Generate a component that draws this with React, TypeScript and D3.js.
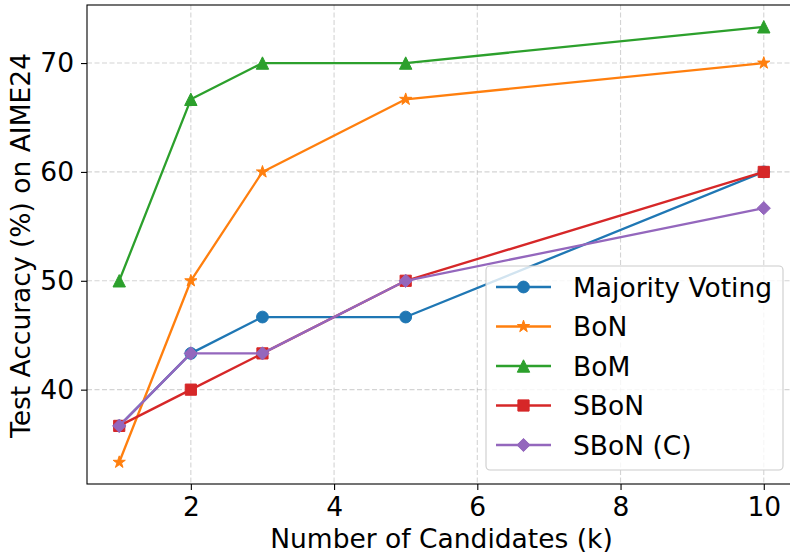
import { useEffect, useRef } from "react";
import * as d3 from "d3";

const candidates = [1, 2, 3, 5, 10];
const majorityVoting = [36.67, 43.33, 46.67, 46.67, 60.0];
const bon = [33.33, 50.0, 60.0, 66.67, 70.0];
const bom = [50.0, 66.67, 70.0, 70.0, 73.33];
const sbon = [36.67, 40.0, 43.33, 50.0, 60.0];
const sbonC = [36.67, 43.33, 43.33, 50.0, 56.67];

const xTicks = [2, 4, 6, 8, 10];
const yTicks = [40, 50, 60, 70];

const seriesList = [
  { name: "Majority Voting", values: majorityVoting, color: "#1f77b4", marker: "circle" },
  { name: "BoN", values: bon, color: "#ff7f0e", marker: "star" },
  { name: "BoM", values: bom, color: "#2ca02c", marker: "triangle" },
  { name: "SBoN", values: sbon, color: "#d62728", marker: "square" },
  { name: "SBoN (C)", values: sbonC, color: "#9467bd", marker: "diamond" },
];

function markerPath(kind: string): string {
  switch (kind) {
    case "circle":
      return d3.symbol(d3.symbolCircle, Math.PI * 5.9 * 5.9)() as string;
    case "star":
      return d3.symbol(d3.symbolStar, 46)() as string;
    case "triangle": {
      const h = 6.2;
      return `M0,${-h}L${h},${h}L${-h},${h}Z`;
    }
    case "square": {
      const h = 5.6;
      return `M${-h},${-h}H${h}V${h}H${-h}Z`;
    }
    default: {
      const h = 6.6;
      return `M0,${-h}L${h},0L0,${h}L${-h},0Z`;
    }
  }
}

export default function App() {
  const svgRef = useRef<SVGSVGElement | null>(null);

  useEffect(() => {
    const W = 790, H = 555;
    const left = 87, top = 5, bottom = 484, right = 796;
    const font = "DejaVu Sans, sans-serif";
    const fs = "26.5px";

    const svg = d3.select(svgRef.current).attr("width", W).attr("height", H);
    svg.selectAll("*").remove();

    const x = d3.scaleLinear().domain([0.55, 10.45]).range([left, right]);
    const y = d3.scaleLinear().domain([31.333, 75.333]).range([bottom, top]);

    svg.append("rect").attr("width", W).attr("height", H).attr("fill", "white");

    // grid
    const grid = svg.append("g")
      .attr("stroke", "#b0b0b0")
      .attr("stroke-opacity", 0.55)
      .attr("stroke-width", 1.1)
      .attr("stroke-dasharray", "5,2.5");
    grid.selectAll(".gx").data(xTicks).join("line")
      .attr("x1", d => x(d)).attr("x2", d => x(d))
      .attr("y1", top).attr("y2", bottom);
    grid.selectAll(".gy").data(yTicks).join("line")
      .attr("y1", d => y(d)).attr("y2", d => y(d))
      .attr("x1", left).attr("x2", right);

    svg.append("clipPath").attr("id", "plot-clip")
      .append("rect").attr("x", left).attr("y", top)
      .attr("width", right - left).attr("height", bottom - top);

    const plot = svg.append("g").attr("clip-path", "url(#plot-clip)");

    const line = d3.line<number>()
      .x((_, i) => x(candidates[i]))
      .y(d => y(d));

    seriesList.forEach(s => {
      const g = plot.append("g");
      g.append("path")
        .datum(s.values)
        .attr("fill", "none")
        .attr("stroke", s.color)
        .attr("stroke-width", 2.3)
        .attr("stroke-linejoin", "round")
        .attr("d", line);
      g.selectAll("path.mk").data(s.values).join("path")
        .attr("class", "mk")
        .attr("transform", (d, i) => `translate(${x(candidates[i])},${y(d)})`)
        .attr("d", markerPath(s.marker))
        .attr("fill", s.color)
        .attr("stroke", s.color)
        .attr("stroke-width", 1);
    });

    // spines
    svg.append("rect")
      .attr("x", left).attr("y", top)
      .attr("width", right - left).attr("height", bottom - top)
      .attr("fill", "none").attr("stroke", "black").attr("stroke-width", 1.1);

    // axes
    const xAxis = svg.append("g")
      .attr("transform", `translate(0,${bottom})`)
      .call(d3.axisBottom(x).tickValues(xTicks).tickSize(6).tickPadding(7).tickFormat(d3.format("d")));
    const yAxis = svg.append("g")
      .attr("transform", `translate(${left},0)`)
      .call(d3.axisLeft(y).tickValues(yTicks).tickSize(6).tickPadding(7).tickFormat(d3.format("d")));
    [xAxis, yAxis].forEach(a => {
      a.select(".domain").remove();
      a.selectAll("line").attr("stroke", "black").attr("stroke-width", 1.1);
      a.selectAll("text").attr("fill", "black").style("font-size", fs).style("font-family", font);
    });

    svg.append("text")
      .attr("x", (left + right) / 2).attr("y", 548)
      .attr("text-anchor", "middle")
      .style("font-size", fs).style("font-family", font)
      .text("Number of Candidates (k)");

    svg.append("text")
      .attr("transform", `translate(30,245.5) rotate(-90)`)
      .attr("text-anchor", "middle")
      .style("font-size", fs).style("font-family", font)
      .text("Test Accuracy (%) on AIME24");

    // legend
    const legend = svg.append("g");
    legend.append("rect")
      .attr("x", 486).attr("y", 266).attr("width", 297).attr("height", 204)
      .attr("rx", 4)
      .attr("fill", "white").attr("fill-opacity", 0.8)
      .attr("stroke", "#cccccc").attr("stroke-width", 1.1);
    const item = legend.selectAll("g.item").data(seriesList).join("g")
      .attr("class", "item")
      .attr("transform", (_, i) => `translate(0,${287 + i * 39.5})`);
    item.append("line")
      .attr("x1", 496).attr("x2", 551)
      .attr("stroke", d => d.color).attr("stroke-width", 2.3);
    item.append("path")
      .attr("transform", "translate(523.5,0)")
      .attr("d", d => markerPath(d.marker))
      .attr("fill", d => d.color).attr("stroke", d => d.color).attr("stroke-width", 1);
    item.append("text")
      .attr("x", 573).attr("dy", "0.36em")
      .style("font-size", fs).style("font-family", font)
      .text(d => d.name);
  }, []);

  return (
    <svg ref={svgRef} style={{ position: "fixed", left: 0, top: 0, display: "block" }}></svg>
  );
}
